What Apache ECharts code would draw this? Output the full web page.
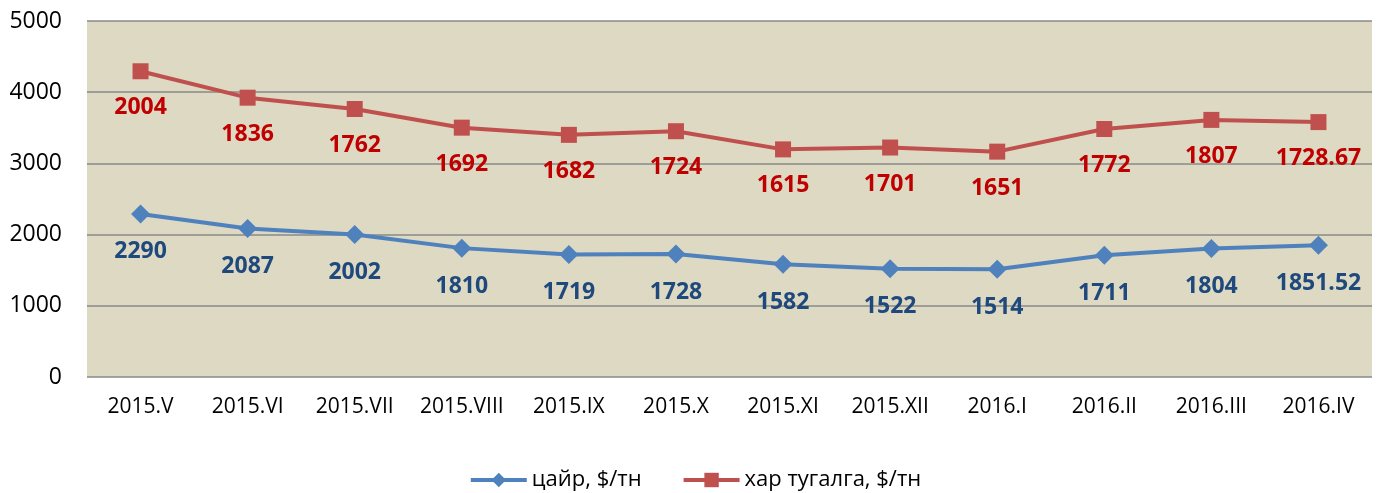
<!DOCTYPE html>
<html><head><meta charset="utf-8">
<script src="https://cdn.jsdelivr.net/npm/echarts@6/dist/echarts.min.js"></script>
<style>html,body{margin:0;padding:0;background:#fff}#c{width:1390px;height:493px}</style>
</head><body><div id="c"></div>
<script>
const categories = ['2015.V','2015.VI','2015.VII','2015.VIII','2015.IX','2015.X','2015.XI','2015.XII','2016.I','2016.II','2016.III','2016.IV'];
const zinc = [2290,2087,2002,1810,1719,1728,1582,1522,1514,1711,1804,1851.52];
const lead = [2004,1836,1762,1692,1682,1724,1615,1701,1651,1772,1807,1728.67];
const yTicks = [0,1000,2000,3000,4000,5000];
const FONT = '"Open Sans", "Noto Sans", sans-serif';
const chart = echarts.init(document.getElementById('c'));
chart.setOption({
  animation:false,
  textStyle:{fontFamily:FONT},
  grid:{left:87,right:18,top:21,bottom:116,show:true,backgroundColor:'#DDD9C3',borderWidth:0},
  legend:{bottom:-3,left:'center',itemWidth:56,itemHeight:18,itemGap:40,
    lineStyle:{width:4},
    textStyle:{fontFamily:FONT,fontSize:22,color:'#000'},
    data:[{name:'цайр, $/тн',lineStyle:{width:4,color:'#4F81BD'}},{name:'хар тугалга, $/тн',lineStyle:{width:4,color:'#C0504D'}}]},
  xAxis:{type:'category',data:categories,boundaryGap:true,
    axisLine:{show:false},axisTick:{show:false},
    axisLabel:{fontSize:21,color:'#000',margin:20,fontFamily:FONT,interval:0}},
  yAxis:{type:'value',min:yTicks[0],max:yTicks[yTicks.length-1],interval:1000,
    axisLine:{show:false},axisTick:{show:false},
    splitLine:{lineStyle:{color:'#888',width:1.5}},
    axisLabel:{fontSize:23,color:'#000',margin:25,fontFamily:FONT,formatter:v=>String(v)}},
  series:[
    {name:'цайр, $/тн',type:'line',stack:'total',data:zinc,
     symbol:'diamond',symbolSize:19,
     lineStyle:{color:'#4F81BD',width:4},itemStyle:{color:'#4F81BD'},
     label:{show:true,position:'bottom',distance:17,fontSize:23,fontWeight:'bold',color:'#1F497D',fontFamily:FONT}},
    {name:'хар тугалга, $/тн',type:'line',stack:'total',data:lead,
     symbol:'rect',symbolSize:16,
     lineStyle:{color:'#C0504D',width:4},itemStyle:{color:'#C0504D'},
     label:{show:true,position:'bottom',distance:17,fontSize:23,fontWeight:'bold',color:'#C00000',fontFamily:FONT}}
  ]
});
</script></body></html>
